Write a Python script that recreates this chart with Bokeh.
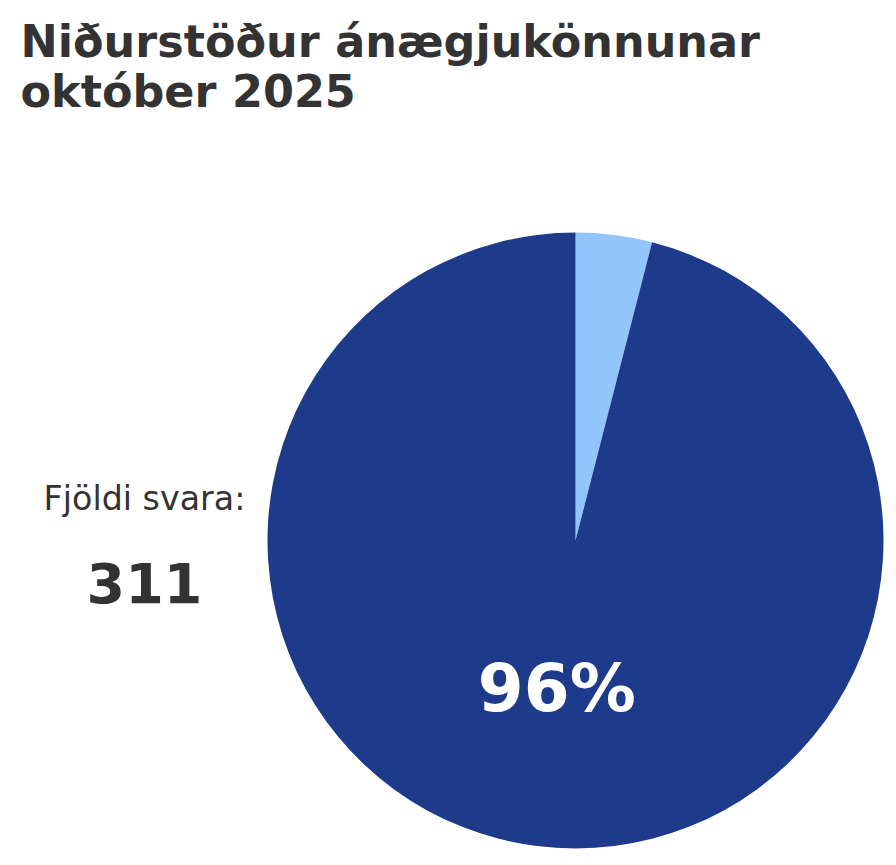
import math
from bokeh.plotting import figure
from bokeh.models import Range1d, ColumnDataSource
from bokeh.core.properties import value
from bokeh.embed import file_html
from bokeh.resources import INLINE

# --- data ---
categories = ["Ánægð", "Ekki ánægð"]
shares = [96, 4]
colors = ["#1e3a8a", "#93c5fd"]
title_lines = ["Niðurstöður ánægjukönnunar", "október 2025"]
respondents_label = "Fjöldi svara:"
respondents = 311

W, H = 890, 860
p = figure(width=W, height=H, output_backend="svg", toolbar_location=None,
           x_range=Range1d(0, W), y_range=Range1d(0, H),
           min_border=0, outline_line_color=None)
p.axis.visible = False
p.grid.visible = False
p.background_fill_color = "white"

def sy(y):
    # screen-from-top to data coordinate
    return H - y

cx, cy, r = 575, sy(540), 308
total = sum(shares)
order = [1, 0]
cum = 0.0
starts, ends, cols = [], [], []
label_x, label_y, label_t = [], [], []
for i in order:
    f0 = cum / total
    cum += shares[i]
    f1 = cum / total
    starts.append(math.pi / 2 - f0 * 2 * math.pi)
    ends.append(math.pi / 2 - f1 * 2 * math.pi)
    cols.append(colors[i])
    if shares[i] / total > 0.2:
        mid = math.pi / 2 - (f0 + f1) / 2 * 2 * math.pi
        label_x.append(cx + 0.485 * r * math.cos(mid))
        label_y.append(cy + 0.485 * r * math.sin(mid))
        label_t.append(f"{round(shares[i] / total * 100)}%")

src = ColumnDataSource(dict(start=starts, end=ends, color=cols))
p.wedge(x=cx, y=cy, radius=r, radius_units="screen", start_angle="start",
        end_angle="end", direction="clock", fill_color="color",
        line_color=None, source=src)

p.text(x=label_x, y=label_y, text=label_t, text_font=value("DejaVu Sans"),
       text_font_size="66px", text_font_style="bold", text_color="white",
       text_align="center", text_baseline="middle")

# title
p.text(x=[20, 20], y=[sy(40.5), sy(90.5)], text=title_lines, text_font=value("DejaVu Sans"),
       text_font_size="44.5px", text_font_style="bold", text_color="#333333",
       text_align="left", text_baseline="middle")

# respondents
p.text(x=[144], y=[sy(497.5)], text=[respondents_label], text_font=value("DejaVu Sans"),
       text_font_size="33.3px", text_color="#333333",
       text_align="center", text_baseline="middle")
p.text(x=[144], y=[sy(582)], text=[str(respondents)], text_font=value("DejaVu Sans"),
       text_font_size="55.5px", text_font_style="bold", text_color="#333333",
       text_align="center", text_baseline="middle")

open("out.html", "w").write(file_html(p, INLINE))
